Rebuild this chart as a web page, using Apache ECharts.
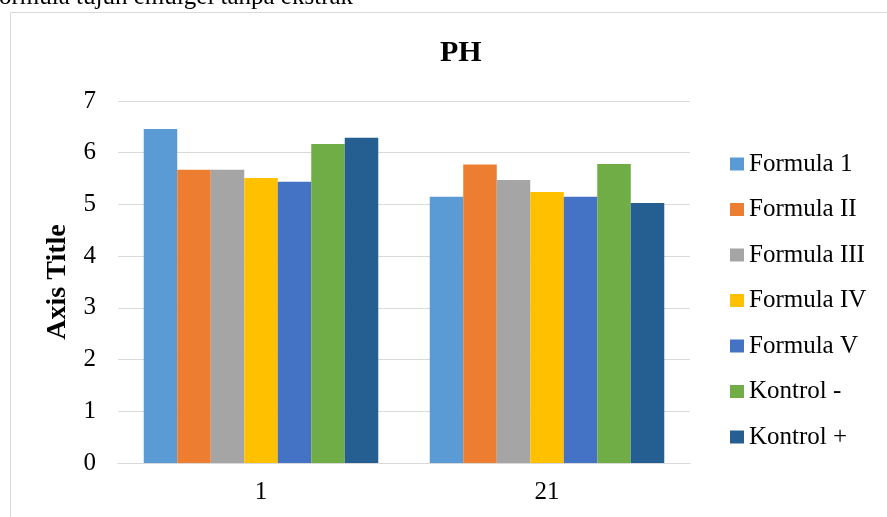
<!DOCTYPE html>
<html>
<head>
<meta charset="utf-8">
<script src="https://cdn.jsdelivr.net/npm/echarts@6/dist/echarts.min.js"></script>
<style>
html,body{margin:0;padding:0;background:#fff;}
#c{width:887px;height:517px;}
</style>
</head>
<body>
<div id="c"></div>
<script>
const categories = ['1', '21'];
const seriesNames = ['Formula 1', 'Formula II', 'Formula III', 'Formula IV', 'Formula V', 'Kontrol -', 'Kontrol +'];
const formula1 = [6.46, 5.15];
const formula2 = [5.67, 5.77];
const formula3 = [5.67, 5.47];
const formula4 = [5.51, 5.24];
const formula5 = [5.44, 5.15];
const kontrolMin = [6.17, 5.78];
const kontrolPlus = [6.29, 5.03];
const yTicks = [0, 1, 2, 3, 4, 5, 6, 7];
const colors = ['#5B9BD5', '#ED7D31', '#A5A5A5', '#FFC000', '#4472C4', '#70AD47', '#255E91'];
const values = [formula1, formula2, formula3, formula4, formula5, kontrolMin, kontrolPlus];

const FONT = '"Liberation Serif", "Times New Roman", serif';
const chart = echarts.init(document.getElementById('c'), null, {renderer: 'canvas'});
chart.setOption({
  animation: false,
  backgroundColor: '#fff',
  graphic: [
    {type: 'rect', shape: {x: 10.5, y: 12.5, width: 900, height: 600}, style: {fill: 'none', stroke: '#d9d9d9', lineWidth: 1}, z: -10},
    {type: 'text', left: -1, top: -15, style: {text: 'ormula tujuh emulgel tanpa ekstrak', font: '25px ' + FONT, fill: '#000'}}
  ],
  title: {
    text: 'PH', left: 435, top: 33,
    textStyle: {fontFamily: FONT, fontWeight: 'bold', fontSize: 30, color: '#000'}
  },
  grid: {left: 118, right: 197, top: 101, bottom: 54},
  legend: {
    orient: 'vertical', left: 725, top: 146,
    itemWidth: 14, itemHeight: 13, itemGap: 19.5, icon: 'rect',
    data: seriesNames,
    textStyle: {fontFamily: FONT, fontSize: 25, color: '#000', lineHeight: 26}
  },
  xAxis: {
    type: 'category', data: categories,
    axisLine: {lineStyle: {color: '#d9d9d9', width: 1}},
    axisTick: {show: false},
    axisLabel: {fontFamily: FONT, fontSize: 25, color: '#000', margin: 17}
  },
  yAxis: {
    type: 'value', min: 0, max: 7, interval: 1,
    name: 'Axis Title', nameLocation: 'middle', nameGap: 46,
    nameTextStyle: {fontFamily: FONT, fontWeight: 'bold', fontSize: 28, color: '#000'},
    axisLine: {show: false}, axisTick: {show: false},
    splitLine: {lineStyle: {color: '#d9d9d9', width: 1}},
    axisLabel: {fontFamily: FONT, fontSize: 25, color: '#000', margin: 22,
      formatter: v => yTicks.includes(v) ? String(v) : ''}
  },
  series: seriesNames.map((n, i) => ({
    name: n, type: 'bar', data: values[i],
    barGap: '0%', barCategoryGap: '18%',
    itemStyle: {color: colors[i]}
  }))
});
</script>
</body>
</html>
